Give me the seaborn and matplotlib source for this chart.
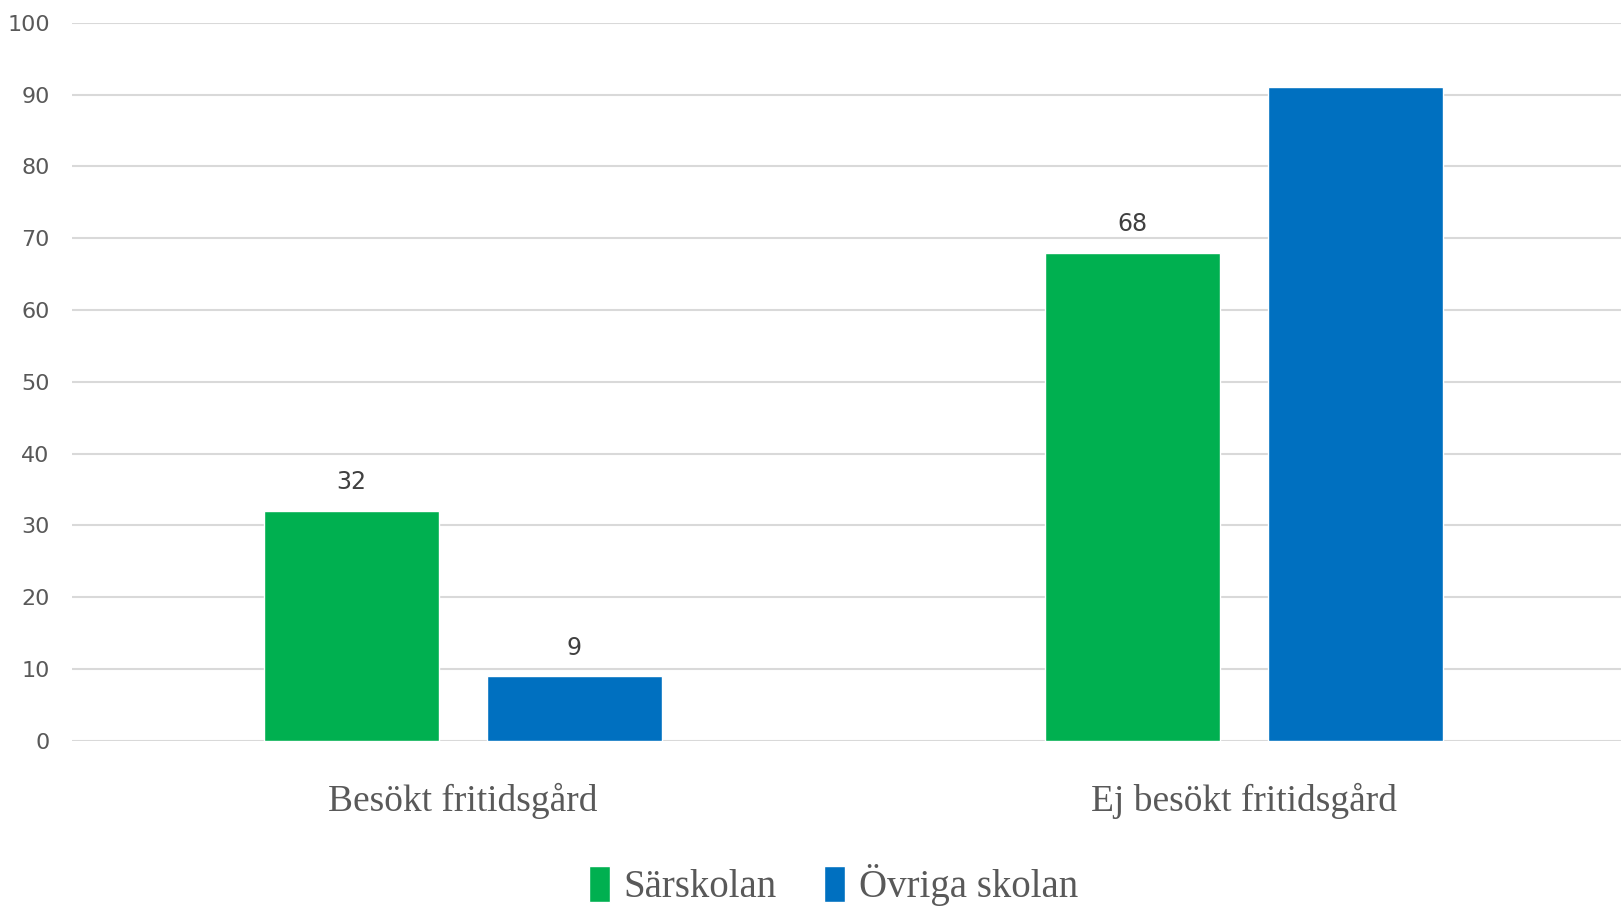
import pandas as pd
import matplotlib
matplotlib.use("Agg")
import matplotlib.pyplot as plt
import seaborn as sns
from matplotlib.patches import Patch

# Chart data
categories = ["Besökt fritidsgård", "Ej besökt fritidsgård"]
series = ["Särskolan", "Övriga skolan"]
sarskolan = [32, 68]
ovriga = [9, 91]
# which values have a visible data label in the original
show_label = {"Särskolan": [True, True], "Övriga skolan": [True, False]}
colors = ["#00B050", "#0070C0"]

sns.set_theme(style="white")
plt.rcParams['font.family'] = ['DejaVu Sans']

df = pd.DataFrame({
    "category": categories * 2,
    "series": [series[0]] * 2 + [series[1]] * 2,
    "value": sarskolan + ovriga,
})

fig = plt.figure(figsize=(16.21, 9.09), dpi=100)
ax = fig.add_axes([0.0444, 0.185, 0.9556, 0.79])

sns.barplot(data=df, x="category", y="value", hue="series", order=categories,
            hue_order=series, palette=colors, width=0.571, gap=0.215,
            saturation=1, legend=False, ax=ax)

for container, name in zip(ax.containers, series):
    vals = sarskolan if name == series[0] else ovriga
    labels = [str(v) if s else "" for v, s in zip(vals, show_label[name])]
    ax.bar_label(container, labels=labels, padding=12, fontsize=17, color="#404040")

ax.set_ylim(0, 100)
ax.set_xlim(-0.5, 1.483)
ax.set_yticks(range(0, 101, 10))
ax.yaxis.grid(True, color="#D9D9D9", linewidth=1.5)
ax.set_axisbelow(True)
for s in ax.spines.values():
    s.set_visible(False)
ax.tick_params(axis="y", length=0, pad=16, labelsize=16, labelcolor="#595959")
ax.tick_params(axis="x", length=0, pad=30)
for lbl in ax.get_xticklabels():
    lbl.set_fontfamily(["Liberation Serif", "DejaVu Serif"])
    lbl.set_fontsize(27)
    lbl.set_color("#595959")
ax.set_xlabel("")
ax.set_ylabel("")

handles = [Patch(facecolor=c, label=n) for c, n in zip(colors, series)]
fig.legend(handles=handles, loc="lower center", bbox_to_anchor=(0.514, -0.035),
           ncol=2, frameon=False, handlelength=0.55, handleheight=1.05,
           handletextpad=0.35, columnspacing=1.2,
           prop={"family": ["Liberation Serif", "DejaVu Serif"], "size": 28},
           labelcolor="#595959")

fig.savefig("out.png", dpi=100)
